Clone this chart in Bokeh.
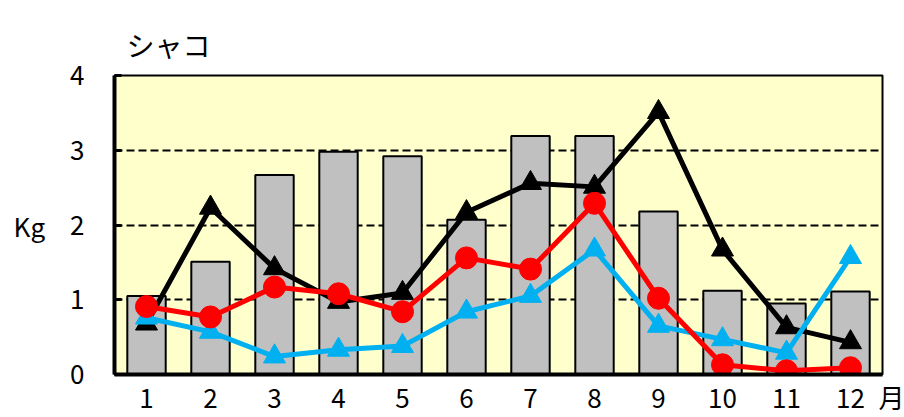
from bokeh.plotting import figure
from bokeh.models import ColumnDataSource, FixedTicker, Range1d
from bokeh.embed import file_html
from bokeh.resources import INLINE

months = [1, 2, 3, 4, 5, 6, 7, 8, 9, 10, 11, 12]
month_labels = ["1", "2", "3", "4", "5", "6", "7", "8", "9", "10", "11", "12"]
bar_values = [1.05, 1.51, 2.67, 2.98, 2.92, 2.07, 3.19, 3.19, 2.18, 1.12, 0.95, 1.11]
black_values = [0.68, 2.23, 1.42, 0.97, 1.09, 2.17, 2.56, 2.51, 3.51, 1.67, 0.63, 0.43]
red_values = [0.91, 0.77, 1.17, 1.08, 0.84, 1.56, 1.41, 2.29, 1.02, 0.13, 0.05, 0.09]
blue_values = [0.76, 0.57, 0.24, 0.33, 0.38, 0.84, 1.05, 1.67, 0.65, 0.47, 0.29, 1.57]
y_ticks = [0, 1, 2, 3, 4]
title_text = "シャコ"
y_unit = "Kg"
x_unit = "月"

FONT = "Noto Sans CJK JP"

src = ColumnDataSource(dict(x=months, bar=bar_values, k=black_values,
                            r=red_values, b=blue_values))

p = figure(width=904, height=417, output_backend="svg", toolbar_location=None,
           x_range=Range1d(0.5, 12.5), y_range=Range1d(0, 4),
           min_border_left=114, min_border_right=22, min_border_top=75,
           min_border_bottom=42)
p.background_fill_color = "#FFFFCC"
p.border_fill_color = "white"
p.outline_line_color = "black"
p.outline_line_width = 2

# title
p.title.text = title_text
p.title.text_font = FONT
p.title.text_font_size = "28px"
p.title.text_font_style = "normal"
p.title.text_color = "black"
p.title.align = "left"
p.title.offset = 12
p.title.standoff = 22

# grid
p.xgrid.visible = False
p.ygrid.ticker = FixedTicker(ticks=[1, 2, 3, 4])
p.ygrid.grid_line_color = "black"
p.ygrid.grid_line_width = 2
p.ygrid.grid_line_dash = "8 4"

# x axis: month ticks plus the unit label near the right end of the axis
unit_pos = 12.49
p.xaxis.ticker = FixedTicker(ticks=months + [unit_pos])
overrides = {m: l for m, l in zip(months, month_labels)}
overrides[unit_pos] = "\u3000\u3000" + x_unit
p.xaxis.major_label_overrides = overrides
p.xaxis.axis_line_width = 4
p.xaxis.major_tick_line_color = None
p.xaxis.minor_tick_line_color = None
p.xaxis.major_label_standoff = -3

# y axis
p.yaxis.ticker = FixedTicker(ticks=y_ticks)
p.yaxis.axis_line_width = 4
p.yaxis.major_tick_in = 7
p.yaxis.major_tick_out = 0
p.yaxis.major_tick_line_width = 3
p.yaxis.minor_tick_line_color = None
p.yaxis.major_label_standoff = 30
p.yaxis.axis_label = y_unit
p.yaxis.axis_label_orientation = "horizontal"
p.yaxis.axis_label_standoff = 22
p.yaxis.axis_label_text_font = FONT
p.yaxis.axis_label_text_font_size = "26px"
p.yaxis.axis_label_text_font_style = "normal"
p.yaxis.axis_label_text_color = "black"
p.yaxis.axis_label_text_baseline = "middle"

for ax in (p.xaxis, p.yaxis):
    ax.major_label_text_font = FONT
    ax.major_label_text_font_size = "26px"
    ax.major_label_text_color = "black"
    ax.axis_line_color = "black"

# bars
p.vbar(x="x", top="bar", width=0.6, bottom=0, source=src,
       fill_color="#C0C0C0", line_color="black", line_width=2)

# lines
p.line("x", "k", source=src, line_color="black", line_width=5)
p.scatter("x", "k", source=src, marker="triangle", size=22,
          fill_color="black", line_color="black")
p.line("x", "b", source=src, line_color="#00B0F0", line_width=5)
p.scatter("x", "b", source=src, marker="triangle", size=22,
          fill_color="#00B0F0", line_color="#00B0F0")
p.line("x", "r", source=src, line_color="#FF0000", line_width=5)
p.scatter("x", "r", source=src, marker="circle", size=22,
          fill_color="#FF0000", line_color="#FF0000")

open("out.html", "w").write(file_html(p, INLINE))
